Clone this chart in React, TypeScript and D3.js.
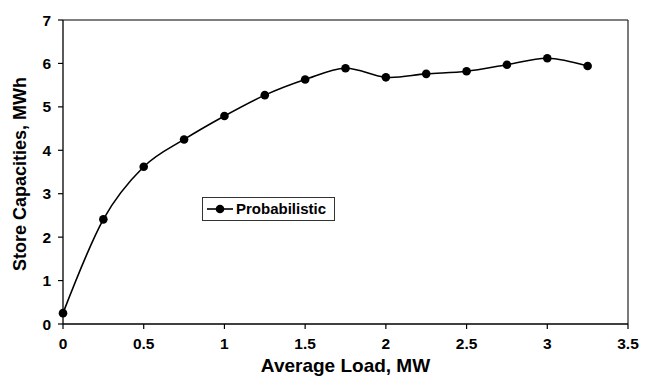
import React from "react";
import * as d3 from "d3";

const loads = [0, 0.25, 0.5, 0.75, 1.0, 1.25, 1.5, 1.75, 2.0, 2.25, 2.5, 2.75, 3.0, 3.25];
const capacities = [0.25, 2.41, 3.62, 4.25, 4.79, 5.27, 5.63, 5.89, 5.68, 5.76, 5.82, 5.97, 6.12, 5.94];
const xTicks = [0, 0.5, 1, 1.5, 2, 2.5, 3, 3.5];
const yTicks = [0, 1, 2, 3, 4, 5, 6, 7];
const seriesName = "Probabilistic";

const W = 650, H = 376;
const m = { left: 63, right: 22, top: 20, bottom: 52 };
const FONT = "'Liberation Sans', Arial, Helvetica, sans-serif";

export default function App() {
  const x = d3.scaleLinear().domain([0, 3.5]).range([m.left, W - m.right]);
  const y = d3.scaleLinear().domain([0, 7]).range([H - m.bottom, m.top]);
  const pts = loads.map((l, i) => [x(l), y(capacities[i])] as [number, number]);
  const line = d3.line().curve(d3.curveCardinal.tension(0))(pts) || "";
  const x0 = x(0), x1 = x(3.5), y0 = y(0), y1 = y(7);
  return (
    <svg width={W} height={H} style={{ position: "absolute", left: 0, top: 0, background: "#fff" }} fontFamily={FONT}>
      <rect x={0} y={0} width={W} height={H} fill="#fff" />
      <line x1={x0} y1={y1} x2={x1} y2={y1} stroke="#555" strokeWidth={1.3} />
      <line x1={x1} y1={y1} x2={x1} y2={y0} stroke="#333" strokeWidth={1.3} />
      <line x1={x0} y1={y1} x2={x0} y2={y0} stroke="#000" strokeWidth={1.3} />
      <line x1={x0} y1={y0} x2={x1} y2={y0} stroke="#000" strokeWidth={1.3} />
      {yTicks.map((t) => (
        <g key={"y" + t}>
          <line x1={x0 - 5} x2={x0} y1={y(t)} y2={y(t)} stroke="#000" strokeWidth={1.2} />
          <text x={x0 - 12} y={y(t)} dy="0.36em" textAnchor="end" fontSize={15.5} fontWeight="bold">{t}</text>
        </g>
      ))}
      {xTicks.map((t) => (
        <g key={"x" + t}>
          <line x1={x(t)} x2={x(t)} y1={y0} y2={y0 + 5} stroke="#000" strokeWidth={1.2} />
          <text x={x(t)} y={y0 + 25} textAnchor="middle" fontSize={15.5} fontWeight="bold">{t}</text>
        </g>
      ))}
      <text x={(x0 + x1) / 2} y={H - 4} textAnchor="middle" fontSize={19} fontWeight="bold">Average Load, MW</text>
      <text transform={`translate(26,174) rotate(-90)`} textAnchor="middle" fontSize={18} fontWeight="bold">Store Capacities, MWh</text>
      <path d={line} fill="none" stroke="#000" strokeWidth={1.6} />
      {pts.map((p, i) => (
        <circle key={i} cx={p[0]} cy={p[1]} r={4.3} fill="#000" />
      ))}
      <g>
        <rect x={202.5} y={197.5} width={132} height={23} fill="#fff" stroke="#333" strokeWidth={1} />
        <line x1={207} x2={233} y1={209} y2={209} stroke="#000" strokeWidth={1.6} />
        <circle cx={220} cy={209} r={4.3} fill="#000" />
        <text x={236} y={209} dy="0.36em" fontSize={15} fontWeight="bold">{seriesName}</text>
      </g>
    </svg>
  );
}
